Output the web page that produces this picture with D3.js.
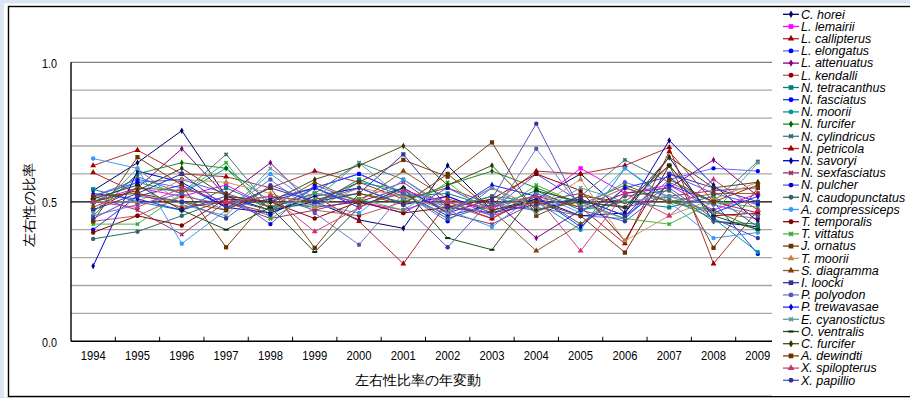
<!DOCTYPE html>
<html>
<head>
<meta charset="utf-8">
<script src="https://cdn.jsdelivr.net/npm/d3@7/dist/d3.min.js"></script>
<style>
  html, body { margin: 0; padding: 0; background: #dce6f2; }
  svg { display: block; }
  text { font-family: "Liberation Sans", Arial, sans-serif; }
</style>
</head>
<body>
<svg id="chart" width="910" height="398"></svg>
<script>
// Years on the category axis
const years = ["1994","1995","1996","1997","1998","1999","2000","2001",
               "2002","2003","2004","2005","2006","2007","2008","2009"];

// Species names (legend order = draw order)
const species = ["C. horei","L. lemairii","L. callipterus","L. elongatus","L. attenuatus",
  "L. kendalli","N. tetracanthus","N. fasciatus","N. moorii","N. furcifer","N. cylindricus",
  "N. petricola","N. savoryi","N. sexfasciatus","N. pulcher","N. caudopunctatus",
  "A. compressiceps","T. temporalis","T. vittatus","J. ornatus","T. moorii","S. diagramma",
  "I. loocki","P. polyodon","P. trewavasae","E. cyanostictus","O. ventralis","C. furcifer",
  "A. dewindti","X. spilopterus","X. papillio"];

// Laterality ratio per year, one array per species
const cHorei          = [0.54,0.64,0.755,0.52,0.47,0.50,0.435,0.405,0.63,0.47,0.51,0.60,0.46,0.66,0.43,0.41];
const lLemairii       = [0.50,0.55,0.52,0.56,0.48,0.53,0.50,0.47,0.52,0.45,0.50,0.62,0.53,0.56,0.47,0.53];
const lCallipterus    = [0.63,0.685,0.60,0.59,0.55,0.61,0.57,0.51,0.55,0.49,0.61,0.60,0.63,0.695,0.278,0.47];
const lElongatus      = [0.52,0.58,0.55,0.50,0.45,0.55,0.60,0.53,0.43,0.55,0.48,0.45,0.44,0.58,0.62,0.61];
const lAttenuatus     = [0.47,0.55,0.69,0.52,0.64,0.48,0.50,0.55,0.46,0.51,0.37,0.47,0.53,0.55,0.65,0.52];
const lKendalli       = [0.43,0.45,0.52,0.49,0.52,0.47,0.45,0.50,0.49,0.44,0.53,0.48,0.55,0.50,0.46,0.44];
const nTetracanthus   = [0.545,0.50,0.47,0.55,0.48,0.49,0.58,0.52,0.53,0.48,0.54,0.47,0.50,0.48,0.52,0.41];
const nFasciatus      = [0.40,0.52,0.56,0.48,0.51,0.55,0.60,0.53,0.45,0.49,0.47,0.51,0.45,0.56,0.50,0.313];
const nMoorii         = [0.50,0.57,0.53,0.62,0.50,0.48,0.57,0.54,0.47,0.52,0.50,0.40,0.62,0.51,0.44,0.32];
const nFurcifer       = [0.45,0.60,0.64,0.62,0.47,0.51,0.53,0.50,0.56,0.61,0.55,0.49,0.56,0.50,0.47,0.40];
const nCylindricus    = [0.49,0.59,0.53,0.67,0.48,0.53,0.64,0.58,0.48,0.52,0.47,0.52,0.65,0.57,0.50,0.645];
const nPetricola      = [0.605,0.53,0.48,0.50,0.46,0.52,0.43,0.278,0.50,0.44,0.52,0.48,0.35,0.68,0.50,0.46];
const nSavoryi        = [0.27,0.61,0.57,0.48,0.46,0.52,0.55,0.49,0.52,0.46,0.51,0.45,0.46,0.72,0.56,0.43];
const nSexfasciatus   = [0.52,0.47,0.383,0.50,0.44,0.47,0.51,0.57,0.46,0.42,0.50,0.53,0.48,0.52,0.54,0.55];
const nPulcher        = [0.52,0.57,0.58,0.53,0.42,0.56,0.50,0.46,0.55,0.47,0.60,0.50,0.44,0.60,0.53,0.49];
const nCaudopunctatus = [0.367,0.393,0.45,0.51,0.47,0.55,0.49,0.53,0.44,0.49,0.52,0.42,0.52,0.54,0.43,0.42];
const aCompressiceps  = [0.655,0.62,0.35,0.47,0.60,0.49,0.46,0.58,0.47,0.41,0.53,0.46,0.62,0.50,0.37,0.39];
const tTemporalis     = [0.39,0.45,0.415,0.51,0.50,0.44,0.50,0.46,0.48,0.51,0.60,0.54,0.36,0.63,0.45,0.46];
const tVittatus       = [0.42,0.42,0.53,0.64,0.44,0.53,0.51,0.47,0.57,0.45,0.56,0.49,0.44,0.42,0.50,0.48];
const jOrnatus        = [0.43,0.66,0.56,0.337,0.52,0.50,0.57,0.65,0.59,0.713,0.45,0.52,0.50,0.63,0.335,0.55];
const tMoorii         = [0.50,0.50,0.58,0.57,0.53,0.48,0.55,0.52,0.47,0.55,0.48,0.58,0.36,0.45,0.51,0.57];
const sDiagramma      = [0.48,0.55,0.54,0.53,0.48,0.57,0.50,0.61,0.51,0.47,0.324,0.42,0.55,0.50,0.53,0.53];
const iLoocki         = [0.47,0.53,0.60,0.48,0.55,0.50,0.53,0.67,0.48,0.46,0.49,0.51,0.45,0.60,0.55,0.50];
const pPolyodon       = [0.45,0.49,0.53,0.47,0.58,0.46,0.346,0.53,0.50,0.45,0.69,0.48,0.57,0.52,0.49,0.45];
const pTrewavasae     = [0.53,0.51,0.47,0.52,0.50,0.55,0.48,0.55,0.46,0.56,0.52,0.41,0.55,0.59,0.46,0.52];
const eCyanostictus   = [0.46,0.62,0.49,0.45,0.62,0.51,0.64,0.51,0.46,0.55,0.46,0.55,0.50,0.52,0.46,0.64];
const oVentralis      = [0.51,0.56,0.47,0.40,0.48,0.32,0.48,0.55,0.37,0.328,0.54,0.50,0.48,0.63,0.45,0.40];
const cFurcifer       = [0.50,0.54,0.62,0.52,0.50,0.58,0.63,0.70,0.56,0.63,0.47,0.50,0.48,0.66,0.55,0.57];
const aDewindti       = [0.52,0.53,0.50,0.47,0.55,0.335,0.53,0.49,0.60,0.47,0.50,0.45,0.318,0.58,0.50,0.56];
const xSpilopterus    = [0.50,0.48,0.55,0.50,0.52,0.393,0.48,0.54,0.50,0.48,0.52,0.324,0.53,0.45,0.58,0.47];
const xPapillio       = [0.44,0.52,0.50,0.44,0.56,0.50,0.55,0.49,0.337,0.51,0.78,0.47,0.43,0.55,0.44,0.37];

const seriesValues = [cHorei,lLemairii,lCallipterus,lElongatus,lAttenuatus,lKendalli,
  nTetracanthus,nFasciatus,nMoorii,nFurcifer,nCylindricus,nPetricola,nSavoryi,nSexfasciatus,
  nPulcher,nCaudopunctatus,aCompressiceps,tTemporalis,tVittatus,jOrnatus,tMoorii,sDiagramma,
  iLoocki,pPolyodon,pTrewavasae,eCyanostictus,oVentralis,cFurcifer,aDewindti,xSpilopterus,xPapillio];

// Y tick labels
const yTickValues = [0.0, 0.5, 1.0];

// Per-series styling
const lineColors = ["#000066","#ff00ff","#b03030","#5a6cff","#800080","#b85c5c","#008080","#2233ff",
  "#009999","#228b22","#4a7a7a","#b22222","#0000cc","#993366","#5555ee","#336666","#4499ff",
  "#990000","#44bb44","#7a4010","#cc9966","#8b5a2b","#3333aa","#7777cc","#2a2aff","#5f9ea0",
  "#1f4f1f","#4d4d1a","#804000","#cc4488","#5555bb"];
const markerColors = ["#000066","#ff00ff","#990000","#0000ff","#800080","#990000","#008080","#0000ff",
  "#009999","#006600","#336666","#a00000","#000099","#993366","#0000cc","#336666","#3399ff",
  "#800000","#33aa33","#663300","#b8864b","#804000","#333399","#5555bb","#0000ee","#669999",
  "#003300","#333300","#663300","#cc3377","#333399"];
const markerShapes = ["diamond","square","triangle","circle","diamond","circle","square","circle",
  "circle","diamond","star","triangle","diamond","star","circle","circle","circle","circle","star",
  "square","triangle","triangle","square","circle","diamond","star","dash","diamond","square",
  "triangle","circle"];

const symbolTypes = {
  diamond: d3.symbolDiamond, square: d3.symbolSquare, triangle: d3.symbolTriangle,
  circle: d3.symbolCircle, star: d3.symbolCross
};
const markerArea = { diamond: 12, square: 18, triangle: 15, circle: 15, star: 12 };

(function draw() {
  const svg = d3.select("#chart");
  const W = 910, H = 398;

  // Frame
  svg.append("rect").attr("x", 0).attr("y", 0).attr("width", W).attr("height", H).attr("fill", "#dce6f2");
  svg.append("rect").attr("x", 4).attr("y", 3.5).attr("width", W).attr("height", 393.5).attr("fill", "#ffffff");
  svg.append("rect").attr("x", 8.5).attr("y", 6.5).attr("width", W).attr("height", 390)
    .attr("fill", "#ffffff").attr("stroke", "#000").attr("stroke-width", 1.4);

  // Plot geometry
  const pLeft = 71, pRight = 780, pTop = 62.3, pBottom = 341.3;

  const x = d3.scaleBand().domain(years).range([pLeft, pRight]);
  const y = d3.scaleLinear().domain([0, 1]).range([pBottom, pTop]);

  const plot = svg.append("g");

  // Gridlines every 0.1
  const gridVals = d3.range(1, 11).map(i => i / 10);
  plot.selectAll("line.grid").data(gridVals).enter().append("line")
    .attr("x1", pLeft).attr("x2", pRight)
    .attr("y1", d => y(d)).attr("y2", d => y(d))
    .attr("stroke", d => Math.abs(d - 0.5) < 1e-9 ? "#000" : (Math.abs(d - 1) < 1e-9 ? "#808080" : "#a8a8a8"))
    .attr("stroke-width", 1.3);

  // Axes
  const xAxis = d3.axisBottom(x).tickSize(0).tickPadding(0);
  const gx = svg.append("g").attr("transform", `translate(0,${pBottom})`).call(xAxis);
  gx.select(".domain").remove();
  gx.selectAll("text")
    .attr("y", 19).attr("dy", 0)
    .attr("font-size", 13.5)
    .attr("fill", "#000")
    .attr("textLength", 25).attr("lengthAdjust", "spacingAndGlyphs");

  // Inside tick marks at category boundaries
  const boundaries = years.slice(1).map(yr => x(yr));
  svg.selectAll("line.xtick").data(boundaries).enter().append("line")
    .attr("x1", d => d).attr("x2", d => d)
    .attr("y1", pBottom).attr("y2", pBottom - 4.5)
    .attr("stroke", "#000").attr("stroke-width", 1);

  svg.append("line").attr("x1", pLeft).attr("x2", pRight).attr("y1", pBottom).attr("y2", pBottom)
    .attr("stroke", "#000").attr("stroke-width", 1.4);

  const yAxis = d3.axisLeft(y).tickValues(yTickValues).tickSize(0).tickPadding(0)
    .tickFormat(d3.format(".1f"));
  const gy = svg.append("g").attr("transform", `translate(${pLeft},0)`).call(yAxis);
  gy.select(".domain").remove();
  gy.selectAll("text")
    .attr("x", -14).attr("dy", "0.35em")
    .attr("font-size", 13.5).attr("fill", "#000")
    .attr("textLength", 15).attr("lengthAdjust", "spacingAndGlyphs");
  svg.append("line").attr("x1", pLeft).attr("x2", pLeft).attr("y1", pTop).attr("y2", pBottom)
    .attr("stroke", "#000").attr("stroke-width", 1.4);

  // Series lines and markers
  const line = d3.line()
    .x((d, i) => x(years[i]) + x.bandwidth() / 2)
    .y(d => y(d));

  seriesValues.forEach((vals, s) => {
    const g = plot.append("g");
    g.append("path").datum(vals)
      .attr("d", line)
      .attr("fill", "none")
      .attr("stroke", lineColors[s])
      .attr("stroke-width", 1);
    const shape = markerShapes[s];
    vals.forEach((v, i) => {
      const cx = x(years[i]) + x.bandwidth() / 2, cy = y(v);
      if (shape === "dash") {
        g.append("rect").attr("x", cx - 2.5).attr("y", cy - 1).attr("width", 5).attr("height", 2)
          .attr("fill", markerColors[s]);
      } else {
        g.append("path")
          .attr("d", d3.symbol().type(symbolTypes[shape]).size(markerArea[shape])())
          .attr("transform", `translate(${cx},${cy})` + (shape === "star" ? " rotate(45)" : ""))
          .attr("fill", markerColors[s]);
      }
    });
  });

  // Legend panel
  const legX = 772;
  svg.append("rect").attr("x", legX).attr("y", 8).attr("width", W - legX).attr("height", 388)
    .attr("fill", "#ffffff");

  const legend = svg.append("g");
  const legY0 = 14.3, legStep = 12.2;
  species.forEach((name, s) => {
    const cy = legY0 + s * legStep;
    const g = legend.append("g");
    g.append("line").attr("x1", 783).attr("x2", 799).attr("y1", cy).attr("y2", cy)
      .attr("stroke", lineColors[s]).attr("stroke-width", 1.3);
    const shape = markerShapes[s];
    if (shape === "dash") {
      g.append("rect").attr("x", 788.5).attr("y", cy - 1).attr("width", 5).attr("height", 2)
        .attr("fill", markerColors[s]);
    } else {
      g.append("path")
        .attr("d", d3.symbol().type(symbolTypes[shape]).size(markerArea[shape] + 4)())
        .attr("transform", `translate(791,${cy})` + (shape === "star" ? " rotate(45)" : ""))
        .attr("fill", markerColors[s]);
    }
    g.append("text").attr("x", 801).attr("y", cy + 4.3)
      .attr("font-size", 12.5).attr("font-style", "italic").attr("fill", "#000")
      .text(name);
  });

  // Axis titles
  svg.append("text")
    .attr("transform", `translate(34,${(pTop + pBottom) / 2 + 3}) rotate(-90)`)
    .attr("text-anchor", "middle")
    .attr("font-family", "'Noto Sans CJK JP', sans-serif")
    .attr("font-size", 13.5)
    .attr("fill", "#000")
    .text("左右性の比率");

  svg.append("text")
    .attr("x", 418).attr("y", 385)
    .attr("text-anchor", "middle")
    .attr("font-family", "'Noto Sans CJK JP', sans-serif")
    .attr("font-size", 13.5)
    .attr("fill", "#000")
    .text("左右性比率の年変動");
})();
</script>
</body>
</html>
